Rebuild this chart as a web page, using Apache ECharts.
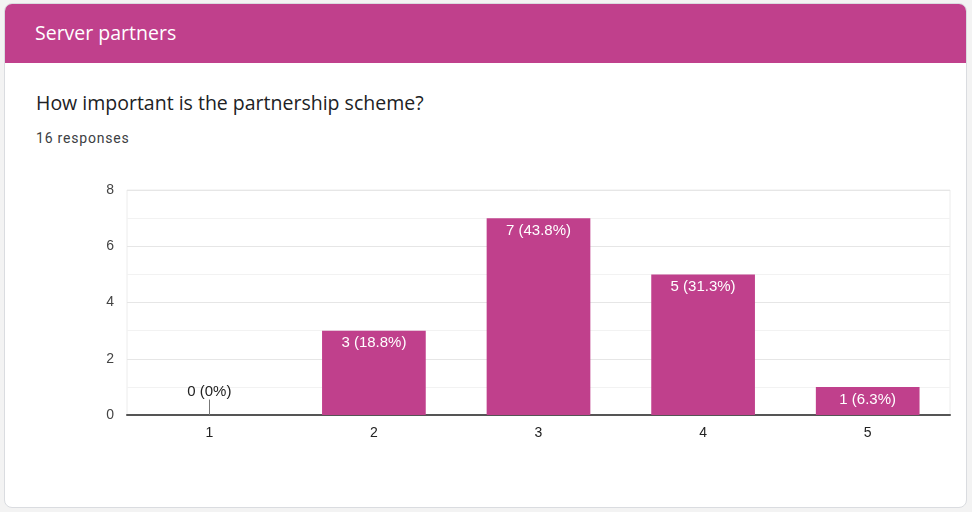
<!DOCTYPE html>
<html>
<head>
<meta charset="utf-8">
<script src="https://cdn.jsdelivr.net/npm/echarts@6/dist/echarts.min.js"></script>
<style>
  html, body { margin: 0; padding: 0; background: #f3f3f3; }
  #page { position: relative; width: 972px; height: 512px; overflow: hidden; }
  .card {
    position: absolute; left: 4px; top: 3px; width: 961px; height: 503px;
    background: #fff; border: 1px solid #dadce0; border-radius: 8px; overflow: hidden;
  }
  .head {
    height: 59px; background: #c0408c; color: #fff;
    font-family: "Open Sans", Roboto, sans-serif; font-size: 19.5px;
    line-height: 57px; padding-left: 30px;
  }
  .title {
    position: absolute; left: 31px; top: 85px; color: #202124;
    font-family: "Open Sans", Roboto, sans-serif; font-size: 19.5px;
  }
  .count {
    position: absolute; left: 31px; top: 126px; color: #3c4043;
    font-family: Roboto, "Open Sans", sans-serif; font-size: 14px; letter-spacing: 0.8px;
  }
  #chart { position: absolute; left: 0; top: 0; width: 972px; height: 512px; }
</style>
</head>
<body>
<div id="page">
  <div class="card">
    <div class="head">Server partners</div>
    <div class="title">How important is the partnership scheme?</div>
    <div class="count">16 responses</div>
  </div>
  <div id="chart"></div>
</div>
<script>
let categories = ["1", "2", "3", "4", "5"];
let counts = [0, 3, 7, 5, 1];
let total = 16;
let yTicks = [0, 2, 4, 6, 8];

let barColor = "#c0408c";

function pct(v) {
  return Math.round(v / total * 1000) / 10;
}

let barData = counts.map(function (v) {
  if (v === 0) {
    return { value: v, label: { position: "top", distance: 16, color: "#222" } };
  }
  return v;
});

var myChart = echarts.init(document.getElementById("chart"));

var option = {
  animation: false,
  grid: {
    left: 127, top: 190, width: 823, height: 225,
    show: true, borderColor: "#ececec", borderWidth: 1
  },
  xAxis: {
    type: "category",
    data: categories,
    axisLine: { lineStyle: { color: "#555", width: 2 } },
    axisTick: { show: false },
    axisLabel: { color: "#222", fontSize: 14, margin: 11, fontFamily: "Liberation Sans, Arial" }
  },
  yAxis: {
    type: "value",
    min: yTicks[0],
    max: yTicks[yTicks.length - 1],
    interval: 2,
    axisLine: { show: false },
    axisTick: { show: false },
    axisLabel: { color: "#444", fontSize: 14, margin: 13, fontFamily: "Liberation Sans, Arial" },
    splitLine: { lineStyle: { color: "#e6e6e6" } },
    minorTick: { show: false, splitNumber: 2 },
    minorSplitLine: { show: true, lineStyle: { color: "#f2f2f2" } }
  },
  series: [{
    type: "bar",
    data: barData,
    barCategoryGap: "37%",
    itemStyle: { color: barColor },
    label: {
      show: true,
      position: "insideTop",
      distance: 5,
      color: "#fff",
      fontSize: 15,
      fontFamily: "Liberation Sans, Arial",
      formatter: function (p) {
        return p.value + " (" + pct(p.value) + "%)";
      }
    },
    markLine: {
      silent: true,
      symbol: "none",
      label: { show: false },
      lineStyle: { color: "#777", width: 1, type: "solid" },
      data: counts.map(function (v, i) {
        return v === 0 ? [{ coord: [categories[i], 0] }, { coord: [categories[i], 0.55] }] : null;
      }).filter(function (d) { return d; })
    }
  }]
};

myChart.setOption(option);
</script>
</body>
</html>
